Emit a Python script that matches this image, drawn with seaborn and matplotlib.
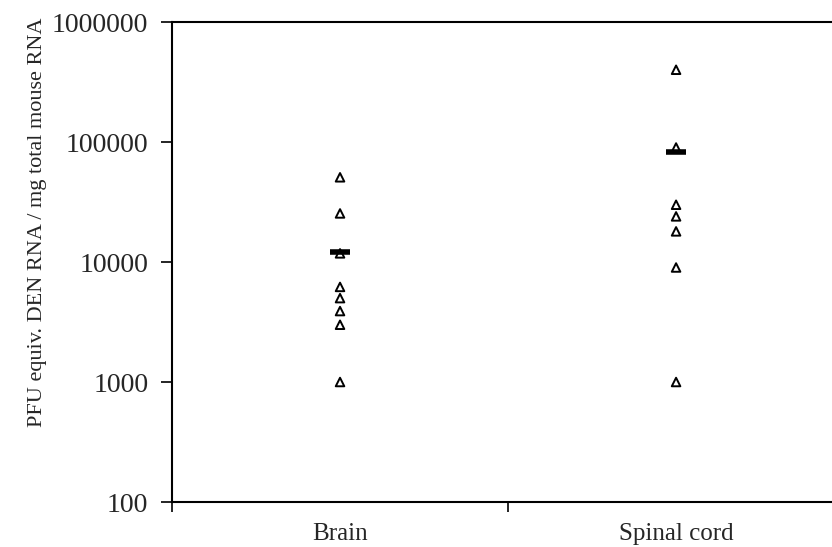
import pandas as pd
import seaborn as sns
import matplotlib.pyplot as plt

##########
## Data ##
##########

brain = [50800, 25400, 11800, 6200, 5000, 3900, 3000, 1000]
spinal_cord = [400000, 90000, 30000, 24000, 18000, 9000, 1000]
categories = ['Brain', 'Spinal cord']
mean_values = [12000, 82000]
ytick_values = [100, 1000, 10000, 100000, 1000000]

df = pd.DataFrame({
    'tissue': ['Brain'] * len(brain) + ['Spinal cord'] * len(spinal_cord),
    'pfu': brain + spinal_cord,
})
means = pd.DataFrame({'tissue': categories, 'pfu': mean_values})

##############
## Plotting ##
##############

sns.set_style('ticks')
plt.rcParams['font.family'] = ['Liberation Serif', 'DejaVu Serif']

fig = plt.figure(figsize=(8.32, 5.47), dpi=100)
ax = fig.add_axes([172 / 832, 45 / 547, 660 / 832, 480 / 547])

sns.scatterplot(data=df, x='tissue', y='pfu', marker='^', s=38,
                facecolor='none', edgecolor='black', linewidth=1.4, ax=ax, zorder=3)
sns.scatterplot(data=means, x='tissue', y='pfu', marker='_', s=200,
                color='black', linewidth=4, ax=ax, zorder=4)

ax.set_yscale('log')
ax.set_ylim(100, 1000000)
ax.set_xlim(-0.5, 1.464)
ax.set_yticks(ytick_values)
ax.set_yticklabels([str(v) for v in ytick_values], fontsize=20)
ax.minorticks_off()

# category names sit between the separator ticks
ax.set_xticks([-0.5, 0.5])
ax.set_xticklabels(['', ''])
ax.set_xticks([0, 1], minor=True)
ax.set_xticklabels(categories, minor=True, fontsize=18)
ax.tick_params(axis='x', which='major', direction='out', length=7, width=1.2, color='black')
ax.tick_params(axis='x', which='minor', length=0, pad=15)
ax.tick_params(axis='y', direction='out', length=8, width=1.2, color='black', pad=9)

ax.set_xlabel('')
ax.set_ylabel('PFU equiv. DEN RNA / mg total mouse RNA', fontsize=16)
ax.yaxis.set_label_coords(-0.19, 0.582)

for side in ['left', 'top', 'bottom']:
    ax.spines[side].set_color('black')
    ax.spines[side].set_linewidth(1.5)
ax.spines['right'].set_visible(False)

plt.savefig('out.png', dpi=100)
plt.close()
